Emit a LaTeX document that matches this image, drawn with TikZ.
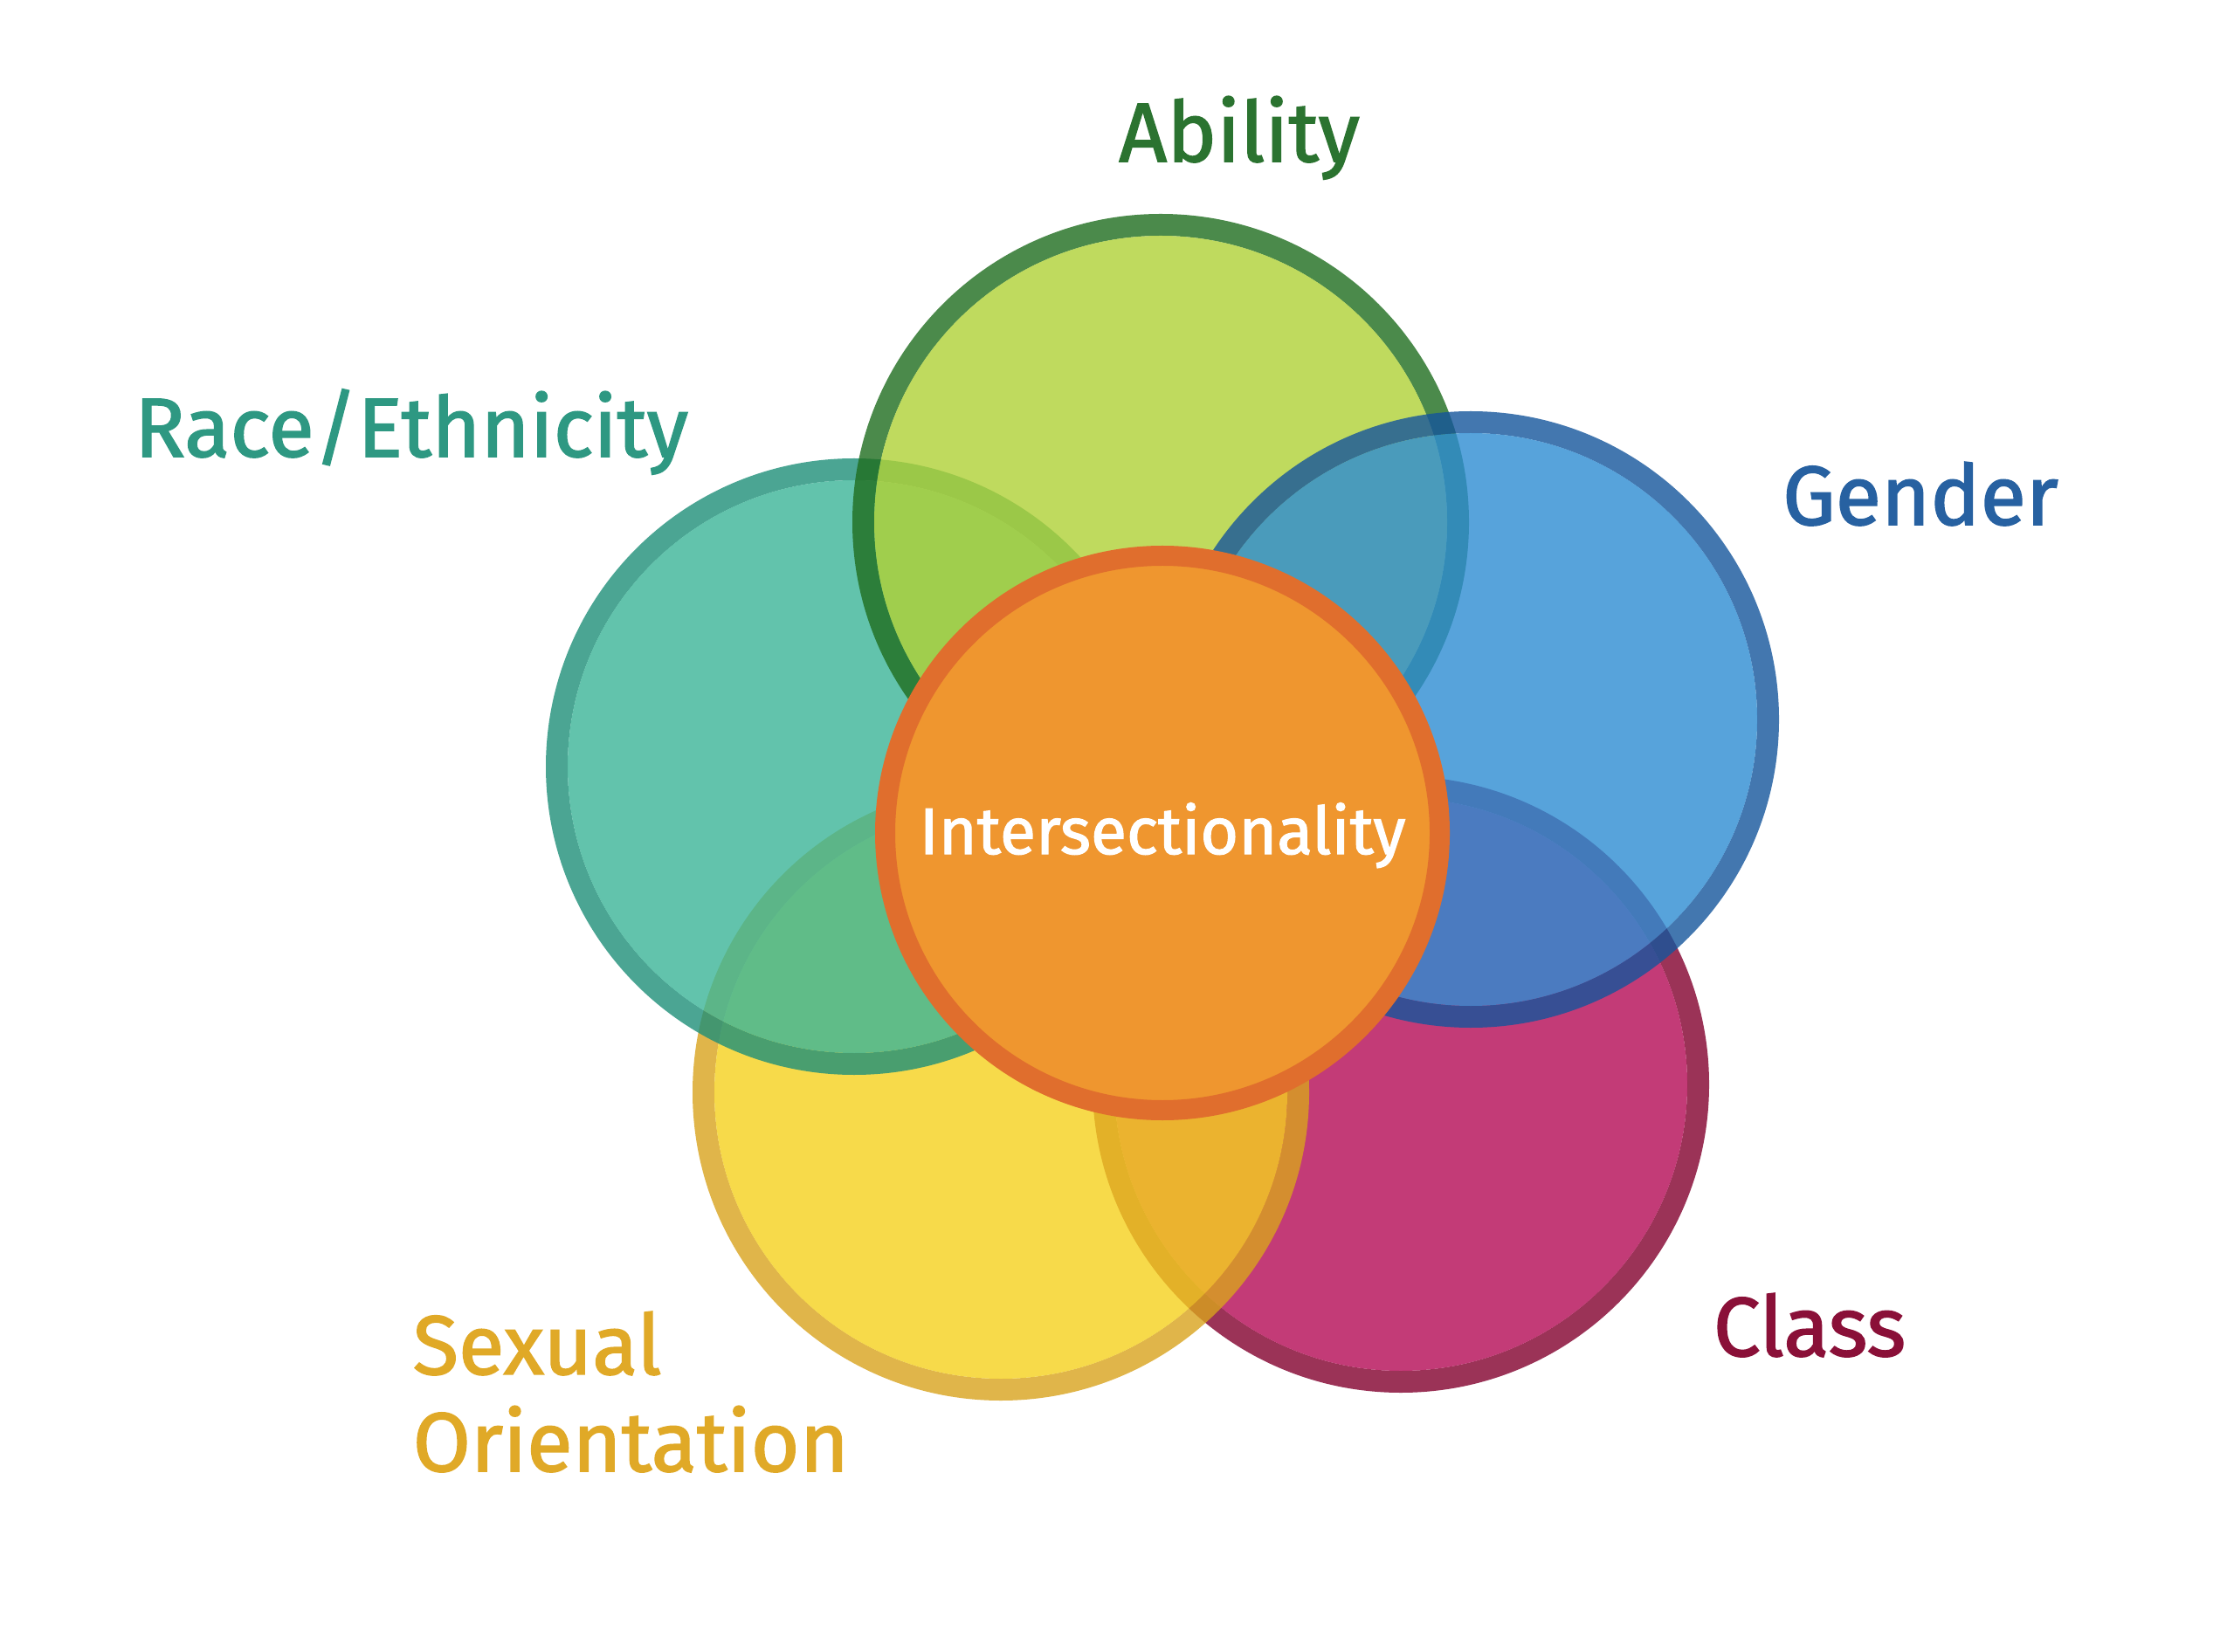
\documentclass[tikz,border=0pt]{standalone}
\usepackage{fontspec}
\setmainfont{Fira Sans}[FakeBold=1.6]

\definecolor{abilityfill}{HTML}{B0D136}
\definecolor{abilityline}{HTML}{1F6D1E}
\definecolor{abilitytext}{HTML}{2B7330}
\definecolor{racefill}{HTML}{3BB598}
\definecolor{raceline}{HTML}{1E8F79}
\definecolor{racetext}{HTML}{2E9882}
\definecolor{genderfill}{HTML}{2D8CD3}
\definecolor{genderline}{HTML}{15559C}
\definecolor{gendertext}{HTML}{2761A1}
\definecolor{classfill}{HTML}{B50B56}
\definecolor{classline}{HTML}{82002E}
\definecolor{classtext}{HTML}{8A1038}
\definecolor{sexfill}{HTML}{F5D11D}
\definecolor{sexline}{HTML}{D9A31D}
\definecolor{sextext}{HTML}{E0A927}
\definecolor{corefill}{HTML}{EF962F}
\definecolor{coreline}{HTML}{E06E2D}

% one see-through circle: centre, fill colour, rim colour
\newcommand{\petal}[3]{%
  \fill[#3, opacity=0.8, even odd rule] (#1) circle (3.53) circle (3.28);
  \fill[#2, opacity=0.8] (#1) circle (3.28);
}

\begin{document}
\begin{tikzpicture}
\tikzset{lbl/.style = {font=\fontsize{27.3}{31.6}\selectfont, anchor=base, inner sep=0pt}}
\tikzset{core/.style = {line width=0.23cm, draw=coreline, fill=corefill}}

\useasboundingbox[fill=white] (0,0) rectangle (25.5,-18.92);

\coordinate (class)  at (16.04,-12.42);
\coordinate (sexual) at (11.46,-12.51);
\coordinate (race)   at (9.78,-8.78);
\coordinate (abil)   at (13.29,-5.98);
\coordinate (gender) at (16.84,-8.24);
\coordinate (mid)    at (13.31,-9.54);

\petal{class}{classfill}{classline}
\petal{sexual}{sexfill}{sexline}
\petal{race}{racefill}{raceline}
\petal{abil}{abilityfill}{abilityline}
\petal{gender}{genderfill}{genderline}

\draw[core] (mid) circle (3.175);

\node[lbl, text=abilitytext] (abiltxt)   at (14.19,-1.85)  {Ability};
\node[lbl, text=racetext]    (racetxt)   at (4.71,-5.23)   {Race/Ethnicity};
\node[lbl, text=gendertext]  (gendertxt) at (21.99,-6.01)  {Gender};
\node[lbl, text=classtext]   (classtxt)  at (20.72,-15.53) {Class};
\node[lbl, text=sextext, anchor=base west, align=left] (sextxt) at (4.72,-16.85) {Sexual\\Orientation};
\node[lbl, text=white, font=\fontsize{21.4}{25}\selectfont] (midtxt) at (13.31,-9.78) {Intersectionality};
\end{tikzpicture}
\end{document}
